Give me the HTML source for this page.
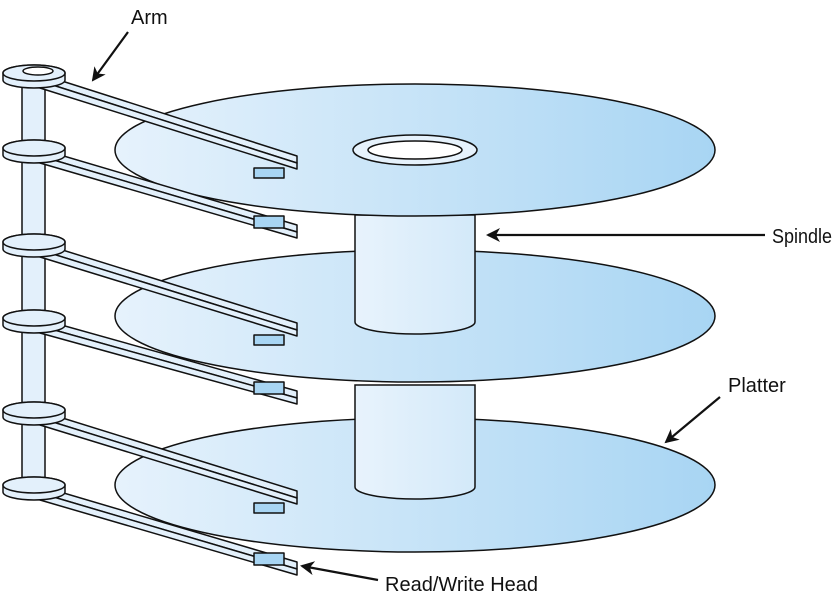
<!DOCTYPE html>
<html><head><style>body{margin:0;background:#fff}svg{display:block}text{font-family:"Liberation Sans",sans-serif;font-size:20px;fill:#111}</style></head>
<body>
<svg width="835" height="600" viewBox="0 0 835 600">
<defs>
<linearGradient id="g" x1="0" x2="1" y1="0" y2="0"><stop offset="0" stop-color="#e6f2fc"/><stop offset="1" stop-color="#a8d5f3"/></linearGradient>
<linearGradient id="s" x1="0" x2="1"><stop offset="0" stop-color="#e8f3fc"/><stop offset="1" stop-color="#d3e9f9"/></linearGradient>
<marker id="a" markerWidth="14" markerHeight="14" refX="12" refY="7" orient="auto" markerUnits="userSpaceOnUse"><path d="M0,0 L14,7 L0,14 L4,7z" fill="#111"/></marker>
</defs>
<g stroke="#111" stroke-width="1.5">
<ellipse cx="415" cy="485" rx="300" ry="67" fill="url(#g)"/>
<path d="M355,385 V487 A60,12 0 0 0 475,487 V385z" fill="url(#s)"/>
<ellipse cx="415" cy="316" rx="300" ry="66" fill="url(#g)"/>
<path d="M355,215 V322 A60,12 0 0 0 475,322 V215z" fill="url(#s)"/>
<ellipse cx="415" cy="150" rx="300" ry="66" fill="url(#g)"/>
<ellipse cx="415" cy="150" rx="62" ry="15" fill="#e6f2fc"/>
<ellipse cx="415" cy="150" rx="47" ry="9" fill="#fff"/>
<rect x="22" y="73" width="23" height="415" fill="#e3f0fb"/>
</g>
<g stroke="#111" stroke-width="1.5" fill="#e3f0fb" stroke-linejoin="round">
<!-- arm 1 -->
<polygon points="40,74 297,156 297,163 40,81"/><polygon points="40,81 297,163 297,169 40,88"/>
<rect x="254" y="168" width="30" height="10" fill="#a8d5f3"/>
<path d="M3,73 A31,8 0 0 1 65,73 V80 A31,8 0 0 1 3,80z"/><ellipse cx="34" cy="73" rx="31" ry="8"/><ellipse cx="38" cy="71" rx="15" ry="4" fill="#fff"/>
<!-- arm 2 -->
<polygon points="40,149 297,225 297,232 40,156"/><polygon points="40,156 297,232 297,238 40,163"/>
<rect x="254" y="216" width="30" height="12" fill="#a8d5f3"/>
<path d="M3,148 A31,8 0 0 1 65,148 V155 A31,8 0 0 1 3,155z"/><ellipse cx="34" cy="148" rx="31" ry="8"/>
<!-- arm 3 -->
<polygon points="40,243 297,323 297,330 40,250"/><polygon points="40,250 297,330 297,336 40,257"/>
<rect x="254" y="335" width="30" height="10" fill="#a8d5f3"/>
<path d="M3,242 A31,8 0 0 1 65,242 V249 A31,8 0 0 1 3,249z"/><ellipse cx="34" cy="242" rx="31" ry="8"/>
<!-- arm 4 -->
<polygon points="40,319 297,391 297,398 40,326"/><polygon points="40,326 297,398 297,404 40,333"/>
<rect x="254" y="382" width="30" height="12" fill="#a8d5f3"/>
<path d="M3,318 A31,8 0 0 1 65,318 V325 A31,8 0 0 1 3,325z"/><ellipse cx="34" cy="318" rx="31" ry="8"/>
<!-- arm 5 -->
<polygon points="40,411 297,491 297,498 40,418"/><polygon points="40,418 297,498 297,504 40,425"/>
<rect x="254" y="503" width="30" height="10" fill="#a8d5f3"/>
<path d="M3,410 A31,8 0 0 1 65,410 V417 A31,8 0 0 1 3,417z"/><ellipse cx="34" cy="410" rx="31" ry="8"/>
<!-- arm 6 -->
<polygon points="40,486 297,562 297,569 40,493"/><polygon points="40,493 297,569 297,575 40,500"/>
<rect x="254" y="553" width="30" height="12" fill="#a8d5f3"/>
<path d="M3,485 A31,8 0 0 1 65,485 V492 A31,8 0 0 1 3,492z"/><ellipse cx="34" cy="485" rx="31" ry="8"/>
</g>
<g stroke="#111" stroke-width="2.2" marker-end="url(#a)">
<line x1="128" y1="32" x2="93" y2="80"/>
<line x1="765" y1="235" x2="488" y2="235"/>
<line x1="720" y1="397" x2="666" y2="442"/>
<line x1="378" y1="580" x2="302" y2="566"/>
</g>
<text x="131" y="24">Arm</text>
<text x="772" y="243" textLength="60" lengthAdjust="spacingAndGlyphs">Spindle</text>
<text x="728" y="392">Platter</text>
<text x="385" y="591">Read/Write Head</text>
</svg>
</body></html>
